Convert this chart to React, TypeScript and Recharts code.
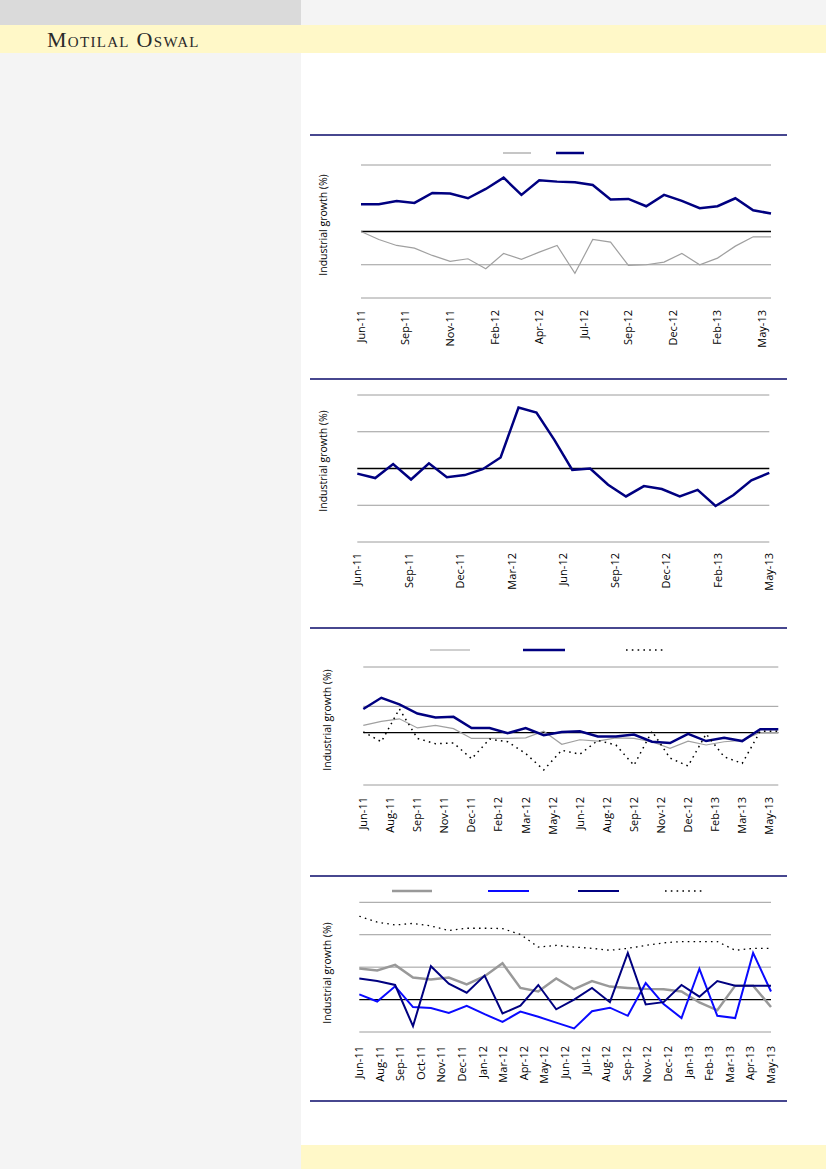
import { LineChart, Line, XAxis, YAxis, ReferenceLine } from "recharts";

const months = [
  "Jun-11", "Jul-11", "Aug-11", "Sep-11", "Oct-11", "Nov-11", "Dec-11", "Jan-12",
  "Feb-12", "Mar-12", "Apr-12", "May-12", "Jun-12", "Jul-12", "Aug-12", "Sep-12",
  "Oct-12", "Nov-12", "Dec-12", "Jan-13", "Feb-13", "Mar-13", "Apr-13", "May-13",
];

// chart 1
const c1Gray = [0, -1.2, -2.1, -2.5, -3.6, -4.5, -4.1, -5.6, -3.3, -4.2, -3.1, -2.1, -6.3, -1.2, -1.6, -5.1, -5.0, -4.6, -3.3, -5.0, -4.0, -2.2, -0.8, -0.8];
const c1Navy = [4.1, 4.1, 4.6, 4.3, 5.8, 5.7, 5.0, 6.4, 8.1, 5.5, 7.7, 7.5, 7.4, 7.0, 4.8, 4.9, 3.8, 5.5, 4.6, 3.5, 3.8, 5.0, 3.2, 2.7];
const c1Labels = ["Jun-11", "Sep-11", "Nov-11", "Feb-12", "Apr-12", "Jul-12", "Sep-12", "Dec-12", "Feb-13", "May-13"];
const c1Grid = [10, -5, -10];

// chart 2
const c2Navy = [-0.7, -1.3, 0.6, -1.5, 0.7, -1.2, -0.9, -0.1, 1.5, 8.3, 7.6, 3.9, -0.2, 0, -2.2, -3.8, -2.4, -2.8, -3.8, -2.9, -5.1, -3.6, -1.6, -0.6];
const c2Labels = ["Jun-11", "Sep-11", "Dec-11", "Mar-12", "Jun-12", "Sep-12", "Dec-12", "Feb-13", "May-13"];
const c2Grid = [10, 5, -5, -10];

// chart 3
const c3Gray = [1.1, 1.7, 2.1, 0.7, 1.1, 0.6, -0.9, -0.9, -0.9, -0.8, 0.2, -1.8, -1.1, -1.3, -0.8, -0.9, -1.4, -2.4, -1.3, -1.9, -1.4, -1.2, 0, 0];
const c3Navy = [3.6, 5.3, 4.3, 2.9, 2.3, 2.4, 0.7, 0.7, -0.1, 0.7, -0.4, 0.1, 0.2, -0.6, -0.6, -0.3, -1.4, -1.6, -0.2, -1.3, -0.8, -1.3, 0.5, 0.5];
const c3Dot = [0.1, -1.4, 3.6, -0.9, -1.7, -1.6, -4.0, -1.0, -1.4, -3.2, -5.7, -2.7, -3.3, -1.2, -1.9, -5.0, 0.2, -3.9, -5.1, -0.2, -3.7, -4.7, 0.2, 0.2];
const c3Labels = ["Jun-11", "Aug-11", "Sep-11", "Nov-11", "Dec-11", "Feb-12", "Mar-12", "May-12", "Jun-12", "Aug-12", "Sep-12", "Nov-12", "Dec-12", "Feb-13", "Mar-13", "May-13"];
const c3Grid = [10, 4, -8];

// chart 4
const c4Gray = [9.6, 9.0, 10.7, 6.8, 6.2, 6.8, 4.7, 7.2, 11.2, 3.6, 2.5, 6.5, 3.2, 5.7, 4.0, 3.6, 3.3, 3.2, 2.5, -0.9, -3.3, 4.3, 4.3, -2.3];
const c4Blue = [1.6, -0.6, 4.1, -2.3, -2.6, -4.1, -1.9, -4.5, -6.9, -3.7, -5.3, -7.1, -8.9, -3.6, -2.5, -5.0, 5.1, -1.4, -5.7, 9.5, -5.0, -5.7, 14.4, 2.5];
const c4Navy = [6.5, 5.7, 4.5, -8.2, 10.3, 4.9, 2.1, 7.4, -4.3, -1.9, 4.5, -3.0, 0, 3.6, -0.8, 14.4, -1.5, -0.8, 4.5, 0.9, 5.7, 4.3, 4.3, 4.3];
const c4Dot = [25.7, 23.9, 23.0, 23.5, 22.7, 21.3, 22.0, 22.0, 21.9, 20.1, 16.2, 16.7, 16.2, 15.8, 15.2, 15.8, 16.7, 17.5, 17.9, 17.9, 17.9, 15.2, 15.8, 15.8];
const c4Labels = ["Jun-11", "Aug-11", "Sep-11", "Oct-11", "Nov-11", "Dec-11", "Jan-12", "Mar-12", "Apr-12", "May-12", "Jun-12", "Jul-12", "Aug-12", "Sep-12", "Nov-12", "Dec-12", "Jan-13", "Feb-13", "Mar-13", "Apr-13", "May-13"];
const c4Grid = [30, 20, 10, -10];

const NAVY = "#000080";
const GRAY = "#a0a0a0";
const BLUE = "#0a0aff";
const FONT = "'Open Sans', 'Liberation Sans', Arial, sans-serif";

type Series = { key: string; values: number[]; color: string; width: number; dash?: string };

function toRows(series: Series[]) {
  return months.map((m, i) => {
    const row: any = { i, month: m };
    series.forEach((s) => (row[s.key] = s.values[i]));
    return row;
  });
}

function RotTick(props: any) {
  const { x, y, payload, labels, step, gap } = props;
  const label = labels[Math.round(payload.value / step)];
  const ty = y + gap;
  return (
    <text
      x={x}
      y={ty}
      dy="0.35em"
      transform={`rotate(-90 ${x} ${ty})`}
      textAnchor="end"
      fontSize={11}
      fontFamily={FONT}
      fill="#000"
    >
      {label}
    </text>
  );
}

type PanelProps = {
  top: number;
  height: number;
  margin: { top: number; left: number; right: number };
  axisHeight: number;
  series: Series[];
  domain: [number, number];
  grid: number[];
  labels: string[];
  step: number;
  gap: number;
};

function Panel(p: PanelProps) {
  const rows = toRows(p.series);
  const ticks = p.labels.map((_, k) => k * p.step);
  return (
    <div style={{ position: "absolute", left: 310, top: p.top }}>
      <LineChart
        width={477}
        height={p.height}
        data={rows}
        margin={{ top: p.margin.top, left: p.margin.left, right: p.margin.right, bottom: 0 }}
      >
        <XAxis
          dataKey="i"
          type="number"
          domain={[0, 23]}
          ticks={ticks}
          interval={0}
          height={p.axisHeight}
          axisLine={false}
          tickLine={false}
          tickSize={0}
          tickMargin={0}
          tick={<RotTick labels={p.labels} step={p.step} gap={p.gap} />}
        />
        <YAxis hide domain={p.domain} allowDataOverflow />
        {p.grid.map((g) => (
          <ReferenceLine key={g} y={g} stroke="#9c9c9c" strokeWidth={1} />
        ))}
        <ReferenceLine y={0} stroke="#000" strokeWidth={1.3} />
        {p.series.map((s) => (
          <Line
            key={s.key}
            type="linear"
            dataKey={s.key}
            stroke={s.color}
            strokeWidth={s.width}
            strokeDasharray={s.dash}
            dot={false}
            activeDot={false}
            isAnimationActive={false}
          />
        ))}
      </LineChart>
    </div>
  );
}

const s1: Series[] = [
  { key: "gray", values: c1Gray, color: GRAY, width: 1.2 },
  { key: "navy", values: c1Navy, color: NAVY, width: 2.5 },
];
const s2: Series[] = [{ key: "navy", values: c2Navy, color: NAVY, width: 2.5 }];
const s3: Series[] = [
  { key: "gray", values: c3Gray, color: GRAY, width: 1.2 },
  { key: "navy", values: c3Navy, color: NAVY, width: 2.5 },
  { key: "dot", values: c3Dot, color: "#000", width: 1.5, dash: "1.6 4.2" },
];
const s4: Series[] = [
  { key: "gray", values: c4Gray, color: "#999", width: 2.5 },
  { key: "blue", values: c4Blue, color: BLUE, width: 2 },
  { key: "navy", values: c4Navy, color: NAVY, width: 2 },
  { key: "dot", values: c4Dot, color: "#000", width: 1.3, dash: "1.6 4.2" },
];

// legend sample positions [x1, x2] on the page
const legends: { y: number; items: [number, number][]; series: Series[] }[] = [
  { y: 153, items: [[503, 531], [556, 584]], series: s1 },
  { y: 650, items: [[430, 470], [523, 565], [626, 666]], series: s3 },
  { y: 891, items: [[392, 432], [488, 529], [578, 619], [665, 705]], series: s4 },
];

const titles = [
  { x: 323, y: 225 },
  { x: 323, y: 461 },
  { x: 327, y: 720 },
  { x: 327, y: 973 },
];

const dividers = [135, 379, 628, 876, 1101];

export default function App() {
  return (
    <div style={{ position: "relative", width: 826, height: 1169, background: "#fff", overflow: "hidden" }}>
      <style>{`body{margin:0}`}</style>
      <div style={{ position: "absolute", left: 0, top: 0, width: 301, height: 25, background: "#dadada" }} />
      <div style={{ position: "absolute", left: 301, top: 0, width: 525, height: 25, background: "#f4f4f4" }} />
      <div style={{ position: "absolute", left: 0, top: 25, width: 826, height: 28, background: "#fff8c8" }} />
      <div style={{ position: "absolute", left: 0, top: 53, width: 301, height: 1116, background: "#f4f4f4" }} />
      <div style={{ position: "absolute", left: 301, top: 1145, width: 525, height: 24, background: "#fff8c8" }} />
      <div
        style={{
          position: "absolute",
          left: 47,
          top: 27,
          fontFamily: "'Liberation Serif', 'DejaVu Serif', serif",
          fontVariant: "small-caps",
          fontSize: 22,
          letterSpacing: 1.3,
          lineHeight: "26px",
          color: "#2a2a2a",
        }}
      >
        Motilal Oswal
      </div>

      <Panel top={140} height={235} margin={{ top: 25, left: 51, right: 16 }} axisHeight={77}
        series={s1} domain={[-10, 10]} grid={c1Grid} labels={c1Labels} step={2.5} gap={12} />
      <Panel top={385} height={240} margin={{ top: 10, left: 47.3, right: 17.7 }} axisHeight={83}
        series={s2} domain={[-10, 10]} grid={c2Grid} labels={c2Labels} step={23 / 8} gap={11} />
      <Panel top={633} height={240} margin={{ top: 34, left: 53.3, right: 8.7 }} axisHeight={88}
        series={s3} domain={[-8, 10]} grid={c3Grid} labels={c3Labels} step={1.5} gap={12} />
      <Panel top={880} height={220} margin={{ top: 22.3, left: 49.3, right: 16 }} axisHeight={68}
        series={s4} domain={[-10, 30]} grid={c4Grid} labels={c4Labels} step={1.15} gap={14} />

      <svg width={826} height={1169} style={{ position: "absolute", left: 0, top: 0, pointerEvents: "none" }}>
        {dividers.map((y) => (
          <line key={y} x1={310} x2={787} y1={y} y2={y} stroke="#0a0a6a" strokeWidth={1.5} />
        ))}
        {titles.map((t, k) => (
          <text
            key={k}
            x={t.x}
            y={t.y}
            transform={`rotate(-90 ${t.x} ${t.y})`}
            textAnchor="middle"
            dominantBaseline="central"
            fontSize={10.5}
            fontFamily={FONT}
            fill="#000"
          >
            Industrial growth (%)
          </text>
        ))}
        {legends.map((lg, k) =>
          lg.items.map(([x1, x2], j) => {
            const s = lg.series[j];
            return (
              <line
                key={`${k}-${j}`}
                x1={x1}
                x2={x2}
                y1={lg.y}
                y2={lg.y}
                stroke={s.color}
                strokeWidth={s.width}
                strokeDasharray={s.dash}
              />
            );
          })
        )}
      </svg>
    </div>
  );
}
